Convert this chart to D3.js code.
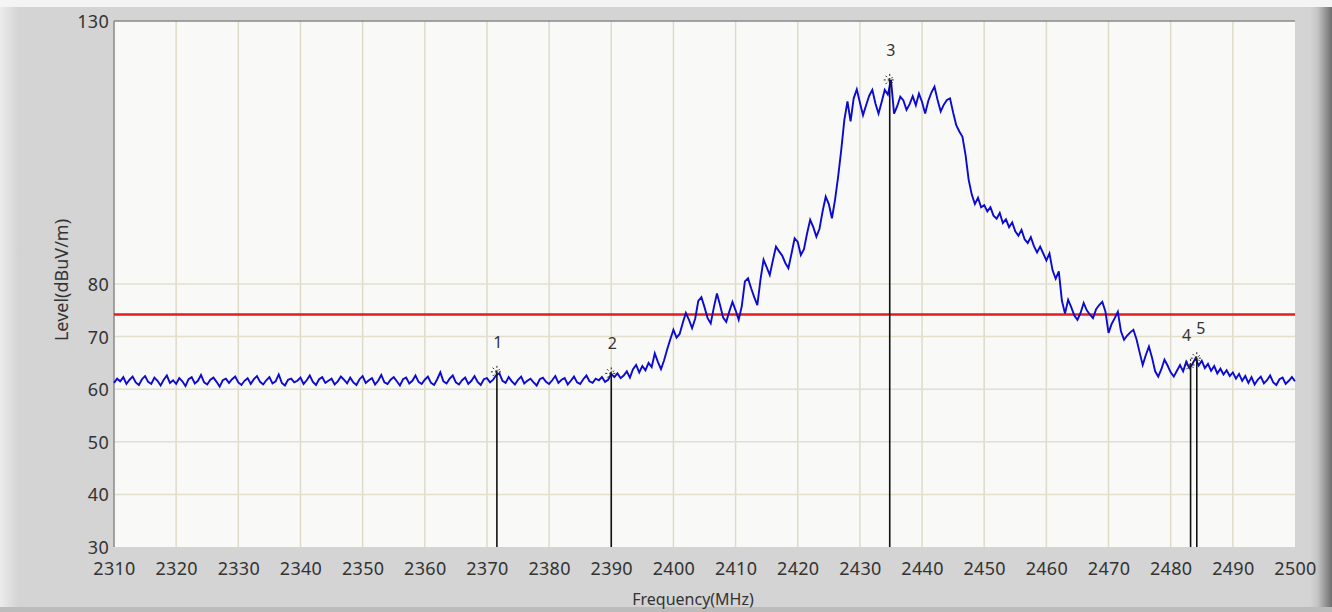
<!DOCTYPE html>
<html><head><meta charset="utf-8">
<script src="https://cdn.jsdelivr.net/npm/d3@7"></script>
<style>
html,body{margin:0;padding:0;background:#d4d4d4;}
svg{display:block;}
text{font-family:"Noto Sans","Open Sans",sans-serif;fill:#333;}
</style></head>
<body>
<svg id="chart" width="1332" height="612"></svg>
<script>
// ---- data ----
const freqStart = 2310;
const freqStep = 0.5;
const levels = [
61.2,62.0,61.5,62.3,61.0,61.8,62.4,61.3,60.8,61.9,62.5,61.4,61.0,62.2,61.6,60.7,61.8,62.6,61.2,61.7,
61.0,62.1,61.5,60.6,61.9,62.3,61.1,61.6,62.7,61.3,60.9,61.8,62.2,61.4,60.5,61.7,62.0,61.2,61.9,62.4,
61.3,60.8,61.6,62.1,61.0,61.9,62.5,61.4,60.9,61.7,62.3,61.1,61.5,62.8,61.2,60.7,61.8,62.0,61.3,61.6,
62.2,61.0,61.7,62.6,61.4,60.8,61.9,62.3,61.2,61.6,62.0,60.9,61.5,62.4,61.8,61.1,62.2,61.3,60.8,61.9,
62.5,61.2,61.7,62.1,60.9,61.6,62.7,61.3,61.0,61.8,62.3,61.5,60.7,61.9,62.2,61.1,61.6,62.6,61.4,61.0,
61.8,62.4,61.2,60.8,61.9,63.2,61.5,61.1,62.0,62.6,61.3,60.9,61.7,62.2,61.0,61.6,62.5,61.4,60.8,61.9,
62.1,61.3,61.8,62.7,63.0,61.6,61.2,62.3,61.5,60.9,61.8,62.4,61.1,61.6,62.0,61.3,60.7,61.9,62.2,61.4,
61.0,61.7,62.5,61.2,61.8,62.1,60.9,61.6,62.4,61.3,61.0,61.9,62.6,61.5,61.2,62.0,61.7,62.3,61.4,61.8,
62.9,62.3,63.0,62.1,62.6,63.4,62.2,63.8,64.6,63.2,64.4,63.6,65.0,64.2,66.8,65.2,63.8,65.5,67.6,69.5,
71.3,69.8,70.5,72.6,74.5,73.2,71.6,73.4,76.8,77.5,75.6,73.5,72.5,75.5,78.2,76.0,73.6,72.8,74.8,76.6,
75.0,73.2,75.8,80.5,81.1,79.2,77.5,76.0,80.8,84.6,83.2,81.7,84.5,87.1,86.2,85.4,84.0,83.0,85.8,88.7,
88.0,85.5,86.6,89.6,92.2,90.8,89.0,90.5,93.8,96.6,95.2,92.5,96.0,100.4,105.5,111.2,114.7,110.9,115.3,117.0,
114.5,112.1,114.0,115.8,116.9,114.3,112.4,114.6,116.9,116.0,118.8,112.4,113.8,115.6,114.9,113.1,114.2,115.7,114.0,116.2,
114.6,112.4,114.8,116.4,117.5,115.0,112.8,114.1,115.0,115.3,112.6,110.2,109.0,108.0,104.5,99.8,97.0,95.2,96.4,94.6,
95.0,93.8,94.6,93.0,92.4,93.5,91.6,92.3,90.8,91.7,90.0,89.2,90.3,88.5,87.8,88.9,87.2,86.0,87.1,85.8,
84.5,85.8,82.6,81.0,82.4,76.8,74.4,77.0,75.6,74.0,73.2,74.5,76.4,75.0,74.2,73.5,75.2,76.0,76.6,74.8,
70.7,72.4,73.5,74.7,71.0,69.4,70.2,70.8,71.3,69.5,67.0,64.6,66.5,68.1,66.0,63.4,62.4,63.8,65.6,64.5,
63.2,62.4,63.5,64.6,63.4,65.2,64.0,64.8,65.9,64.5,65.4,64.0,64.8,63.5,64.4,63.0,63.9,62.8,63.6,62.5,
63.2,62.0,62.9,61.6,62.5,61.2,62.3,60.9,61.8,62.4,61.1,61.7,62.6,61.3,60.8,61.9,62.2,61.0,61.6,62.3,
61.5
];
const limitLevel = 74.2;
const markerFreqs = [2371.6, 2390.0, 2434.8, 2483.2, 2484.2];
const markerLevels = [63.3, 63.0, 118.8, 64.6, 65.9];
const markerLabels = ["1", "2", "3", "4", "5"];
const xTickValues = [2310,2320,2330,2340,2350,2360,2370,2380,2390,2400,2410,2420,2430,2440,2450,2460,2470,2480,2490,2500];
const yTickValues = [30,40,50,60,70,80,130];
const yGridValues = [40,50,60,70,80];
const xGridValues = [2320,2330,2340,2350,2360,2370,2380,2390,2400,2410,2420,2430,2440,2450,2460,2470,2480,2490];

// ---- layout ----
const W = 1332, H = 612;
const L = 114, R = 1295, T = 21, B = 547;
const svg = d3.select("#chart");

// frame
const defs = svg.append("defs");
const gr = defs.append("linearGradient").attr("id","rshade").attr("x1","0").attr("x2","1");
gr.append("stop").attr("offset","0").attr("stop-color","#d4d4d4");
gr.append("stop").attr("offset","0.35").attr("stop-color","#c4c4c4");
gr.append("stop").attr("offset","1").attr("stop-color","#6e6e6e");
const gl = defs.append("linearGradient").attr("id","lshade").attr("x1","0").attr("x2","1");
gl.append("stop").attr("offset","0").attr("stop-color","#ececec");
gl.append("stop").attr("offset","1").attr("stop-color","#d4d4d4");

svg.append("rect").attr("width",W).attr("height",H).attr("fill","#d4d4d4");
svg.append("rect").attr("x",0).attr("y",0).attr("width",W).attr("height",7).attr("fill","#f4f4f4");
svg.append("rect").attr("x",0).attr("y",7).attr("width",18).attr("height",H-7).attr("fill","url(#lshade)");
svg.append("rect").attr("x",1310).attr("y",7).attr("width",22).attr("height",H-7).attr("fill","url(#rshade)");
svg.append("rect").attr("x",0).attr("y",H-5).attr("width",W).attr("height",5).attr("fill","#bcbcbc");

const x = d3.scaleLinear().domain([2310,2500]).range([L,R]);
const y = d3.scaleLinear().domain([30,130]).range([B,T]);

// plot background
svg.append("rect").attr("x",L).attr("y",T).attr("width",R-L).attr("height",B-T).attr("fill","#f9f9f8");

// grid
svg.append("g").selectAll("line").data(xGridValues).join("line")
  .attr("x1",d=>x(d)).attr("x2",d=>x(d)).attr("y1",T).attr("y2",B)
  .attr("stroke","#dedbc8").attr("stroke-width",1.5);
svg.append("g").selectAll("line").data(yGridValues).join("line")
  .attr("x1",L).attr("x2",R).attr("y1",d=>y(d)).attr("y2",d=>y(d))
  .attr("stroke","#e2dfcc").attr("stroke-width",1.5);

// axes lines
svg.append("line").attr("x1",L).attr("x2",R).attr("y1",T).attr("y2",T).attr("stroke","#8a8a8a").attr("stroke-width",1.5);
svg.append("line").attr("x1",L).attr("x2",L).attr("y1",T).attr("y2",B).attr("stroke","#8a8a8a").attr("stroke-width",1.5);

// y axis
const yAxis = svg.append("g").attr("transform",`translate(${L},0)`)
  .call(d3.axisLeft(y).tickValues(yTickValues).tickSize(0).tickPadding(5).tickFormat(d3.format("d")));
yAxis.select(".domain").remove();
yAxis.attr("font-family",null).attr("font-size",null);
yAxis.selectAll("text").style("font-size","18px").style("letter-spacing","0.3px").style("fill","#333").attr("dy","0.36em");

// x axis
const xAxis = svg.append("g").attr("transform",`translate(0,${B})`)
  .call(d3.axisBottom(x).tickValues(xTickValues).tickSize(0).tickPadding(15).tickFormat(d3.format("d")));
xAxis.select(".domain").remove();
xAxis.attr("font-family",null).attr("font-size",null);
xAxis.selectAll("text").style("font-size","18px").style("letter-spacing","0.3px").style("fill","#333");

// axis titles
svg.append("text").attr("transform","translate(68,280) rotate(-90)").attr("text-anchor","middle")
  .style("font-size","18px").text("Level(dBuV/m)");
svg.append("text").attr("x",693).attr("y",605).attr("text-anchor","middle")
  .style("font-size","16px").text("Frequency(MHz)");

// limit line
svg.append("line").attr("x1",L).attr("x2",R).attr("y1",y(limitLevel)).attr("y2",y(limitLevel))
  .attr("stroke","#e01e1e").attr("stroke-width",2.5);

// trace
const pts = levels.map((v,i)=>[freqStart+i*freqStep, v]);
svg.append("path").datum(pts)
  .attr("d", d3.line().x(d=>x(d[0])).y(d=>y(d[1])))
  .attr("fill","none").attr("stroke","#0a0ad0").attr("stroke-width",1.9).attr("stroke-linejoin","miter");

// markers
const labelDx = [1, 1, 1, -4, 4];
const mk = svg.append("g");
markerFreqs.forEach((f,i)=>{
  const mx = x(f), my = y(markerLevels[i]);
  mk.append("line").attr("x1",mx).attr("x2",mx).attr("y1",my).attr("y2",B)
    .attr("stroke","#111").attr("stroke-width",1.6);
  const s = 6;
  const star = mk.append("g").attr("transform",`translate(${mx},${my})`);
  [[-s,0,s,0],[0,-s,0,s],[-s*0.7,-s*0.7,s*0.7,s*0.7],[-s*0.7,s*0.7,s*0.7,-s*0.7]].forEach(c=>{
    star.append("line").attr("x1",c[0]).attr("y1",c[1]).attr("x2",c[2]).attr("y2",c[3])
      .attr("stroke","#222").attr("stroke-width",1).attr("stroke-dasharray","2,2");
  });
  mk.append("text").attr("x",mx+labelDx[i]).attr("y",my-24).attr("text-anchor","middle")
    .style("font-size","16px").text(markerLabels[i]);
});
</script>
</body></html>
